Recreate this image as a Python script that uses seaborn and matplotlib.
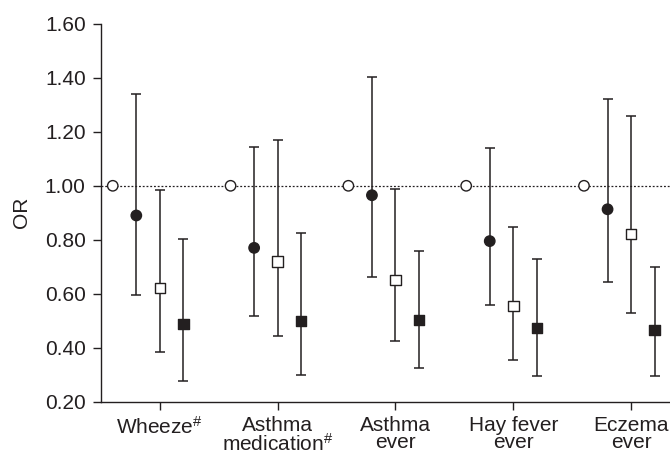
import matplotlib
matplotlib.use("Agg")
import matplotlib.pyplot as plt
import seaborn as sns
import pandas as pd
import numpy as np

categories = ["Wheeze$^{\\#}$", "Asthma\nmedication$^{\\#}$", "Asthma\never", "Hay fever\never", "Eczema\never"]
series = ["Reference", "Group A", "Group B", "Group C"]

ref_or = [1.00, 1.00, 1.00, 1.00, 1.00]
a_or = [0.89, 0.77, 0.965, 0.795, 0.913]
a_lo = [0.595, 0.518, 0.663, 0.558, 0.644]
a_hi = [1.340, 1.143, 1.402, 1.141, 1.321]
b_or = [0.622, 0.719, 0.651, 0.555, 0.822]
b_lo = [0.383, 0.445, 0.424, 0.355, 0.528]
b_hi = [0.985, 1.169, 0.987, 0.849, 1.259]
c_or = [0.487, 0.499, 0.503, 0.472, 0.466]
c_lo = [0.278, 0.299, 0.326, 0.295, 0.295]
c_hi = [0.802, 0.826, 0.757, 0.730, 0.700]

offsets = {"Reference": -0.4, "Group A": -0.2, "Group B": 0.0, "Group C": 0.2}

rows = []
for i in range(len(categories)):
    rows.append(("Reference", i, ref_or[i], np.nan, np.nan))
    rows.append(("Group A", i, a_or[i], a_lo[i], a_hi[i]))
    rows.append(("Group B", i, b_or[i], b_lo[i], b_hi[i]))
    rows.append(("Group C", i, c_or[i], c_lo[i], c_hi[i]))
df = pd.DataFrame(rows, columns=["series", "cat", "OR", "lo", "hi"])
df["x"] = df["cat"] + df["series"].map(offsets)

sns.set_style("ticks")
plt.rcParams["font.family"] = ["Liberation Sans", "DejaVu Sans"]
plt.rcParams["mathtext.fontset"] = "custom"
plt.rcParams["mathtext.rm"] = "Liberation Sans"
plt.rcParams["mathtext.it"] = "Liberation Sans"
plt.rcParams["mathtext.bf"] = "Liberation Sans:bold"

fig = plt.figure(figsize=(6.7, 4.53), dpi=100)
ax = fig.add_axes([0.1507, 0.1133, 0.8493, 0.834])

ink = "#231f20"
ax.axhline(1.0, color=ink, lw=0.9, ls=(0, (1.5, 1.5)), zorder=1)

err = df.dropna(subset=["lo"])
ax.errorbar(err["x"], err["OR"], yerr=[err["OR"] - err["lo"], err["hi"] - err["OR"]],
            fmt="none", ecolor=ink, elinewidth=1.1, capsize=3.9, capthick=1.1, zorder=2)

sns.scatterplot(data=df, x="x", y="OR", hue="series", style="series",
                palette={"Reference": "white", "Group A": ink, "Group B": "white", "Group C": ink},
                markers={"Reference": "o", "Group A": "o", "Group B": "s", "Group C": "s"},
                edgecolor=ink, linewidth=1.0, s=56, legend=False, zorder=3, ax=ax)

ax.set_xlim(-0.5, 4.33)
ax.set_ylim(0.2, 1.6)
ax.set_yticks(np.arange(0.2, 1.61, 0.2))
ax.set_yticklabels([f"{v:.2f}" for v in np.arange(0.2, 1.61, 0.2)])
ax.set_xticks(range(len(categories)))
ax.set_xticklabels(categories, linespacing=0.9)
ax.set_xlabel("")
ax.set_ylabel("OR", fontsize=15, color=ink, labelpad=10)
ax.tick_params(axis="both", labelsize=15, colors=ink, length=6, width=1.0, direction="out")
ax.tick_params(axis="x", pad=4)
ax.tick_params(axis="y", pad=5)
for s in ["top", "right"]:
    ax.spines[s].set_visible(False)
for s in ["left", "bottom"]:
    ax.spines[s].set_color(ink)
    ax.spines[s].set_linewidth(1.0)

fig.savefig("out.png", dpi=100)
